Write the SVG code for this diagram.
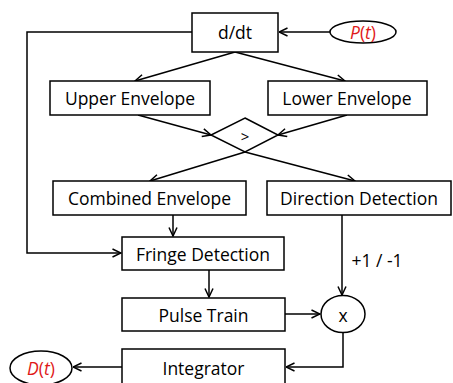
<svg xmlns="http://www.w3.org/2000/svg" width="453" height="383" viewBox="0 0 453 383">
<style>
.box{fill:#fff;stroke:#000;stroke-width:1.5}
.ln{fill:none;stroke:#000;stroke-width:1.5}
.t{font-family:"Open Sans","Liberation Sans",sans-serif;font-size:17.5px;fill:#000;text-anchor:middle;dominant-baseline:central}
.r{font-family:"Open Sans","Liberation Sans",sans-serif;font-size:17.5px;fill:#e01818;text-anchor:middle;dominant-baseline:central}
.i{font-style:italic}
</style>
<defs>
<marker id="arr" viewBox="0 0 10 10" refX="9.5" refY="5" markerWidth="10" markerHeight="10" markerUnits="userSpaceOnUse" orient="auto">
<path d="M1,1 L9.5,5 L1,9" fill="none" stroke="#000" stroke-width="1.5"/>
</marker>
</defs>
<rect width="453" height="383" fill="#fff"/>
<g id="connectors">
<path class="ln" d="M330,32 L279,32" marker-end="url(#arr)"/>
<path class="ln" d="M235,52 L135,81" marker-end="url(#arr)"/>
<path class="ln" d="M235,52 L345,81" marker-end="url(#arr)"/>
<path class="ln" d="M138,115 L211,135" marker-end="url(#arr)"/>
<path class="ln" d="M347,115 L278,135" marker-end="url(#arr)"/>
<path class="ln" d="M245,152 L150,181" marker-end="url(#arr)"/>
<path class="ln" d="M245,152 L355,181" marker-end="url(#arr)"/>
<path class="ln" d="M192,32 L27,32 L27,253 L121,253" marker-end="url(#arr)"/>
<path class="ln" d="M173,215 L173,236" marker-end="url(#arr)"/>
<path class="ln" d="M209,270 L209,297" marker-end="url(#arr)"/>
<path class="ln" d="M342,215 L342,295" marker-end="url(#arr)"/>
<path class="ln" d="M285,314 L320,314" marker-end="url(#arr)"/>
<path class="ln" d="M343,333 L343,367 L286,367" marker-end="url(#arr)"/>
<path class="ln" d="M122,367 L73,367" marker-end="url(#arr)"/>
<text class="t" x="377" y="260">+1 / -1</text>
</g>
<g id="ddt"><rect class="box" x="192" y="13" width="86" height="39"/><text class="t" x="235" y="32">d/dt</text></g>
<g id="pt"><ellipse class="box" cx="363" cy="32" rx="33" ry="11"/><text class="r" x="363" y="32"><tspan class="i">P</tspan>(<tspan class="i">t</tspan>)</text></g>
<g id="upper"><rect class="box" x="50" y="81" width="160" height="34"/><text class="t" x="130" y="98">Upper Envelope</text></g>
<g id="lower"><rect class="box" x="268" y="81" width="159" height="34"/><text class="t" x="347" y="98">Lower Envelope</text></g>
<g id="compare"><polygon class="box" points="245,118 278,135 245,152 211,135"/><text class="t" x="245" y="136" style="font-size:15px">&gt;</text></g>
<g id="combined"><rect class="box" x="53" y="181" width="193" height="34"/><text class="t" x="149.5" y="198">Combined Envelope</text></g>
<g id="direction"><rect class="box" x="267" y="181" width="184" height="34"/><text class="t" x="359" y="198">Direction Detection</text></g>
<g id="fringe"><rect class="box" x="122" y="237" width="162" height="33"/><text class="t" x="203" y="253.5">Fringe Detection</text></g>
<g id="pulse"><rect class="box" x="122" y="298" width="163" height="33"/><text class="t" x="203.5" y="314.5">Pulse Train</text></g>
<g id="mult"><ellipse class="box" cx="343" cy="314" rx="22" ry="18.5"/><text class="t" x="343" y="315">x</text></g>
<g id="integrator"><rect class="box" x="122" y="349" width="163" height="40"/><text class="t" x="203.5" y="368">Integrator</text></g>
<g id="dt"><ellipse class="box" cx="41" cy="368" rx="31" ry="17"/><text class="r" x="41" y="368"><tspan class="i">D</tspan>(<tspan class="i">t</tspan>)</text></g>
</svg>
